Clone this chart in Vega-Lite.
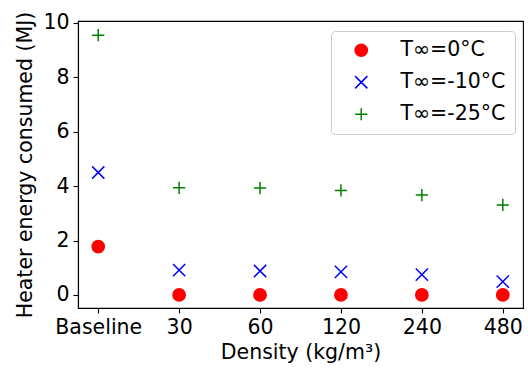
{
  "$schema": "https://vega.github.io/schema/vega-lite/v6.json",
  "width": 445,
  "height": 287,
  "autosize": {"type": "none"},
  "padding": {"left": 78, "top": 21, "right": 5, "bottom": 61},
  "background": "white",
  "config": {
    "font": "DejaVu Sans",
    "view": {"stroke": "black", "strokeWidth": 1.1},
    "axis": {
      "domainColor": "black", "domainWidth": 1.1,
      "tickColor": "black", "tickWidth": 1.1, "tickSize": 5,
      "labelFont": "DejaVu Sans", "labelFontSize": 20.5, "labelColor": "black", "labelPadding": 4,
      "titleFont": "DejaVu Sans", "titleFontSize": 20.5, "titleFontWeight": "normal", "titleColor": "black",
      "grid": false
    },
    "legend": {
      "orient": "none",
      "legendX": 253,
      "legendY": 10,
      "labelFont": "DejaVu Sans",
      "labelFontSize": 20.5,
      "labelColor": "black",
      "symbolSize": 150,
      "symbolStrokeWidth": 1.5,
      "fillColor": "rgba(255,255,255,0.8)",
      "strokeColor": "#cccccc",
      "cornerRadius": 4,
      "padding": 9,
      "rowPadding": 11,
      "labelOffset": 29,
      "symbolOffset": 11
    }
  },
  "data": {
    "values": [
      {"density": "Baseline", "series": "T∞=0°C", "energy": 1.78},
      {"density": "30", "series": "T∞=0°C", "energy": 0},
      {"density": "60", "series": "T∞=0°C", "energy": 0},
      {"density": "120", "series": "T∞=0°C", "energy": 0},
      {"density": "240", "series": "T∞=0°C", "energy": 0},
      {"density": "480", "series": "T∞=0°C", "energy": 0},
      {"density": "Baseline", "series": "T∞=-10°C", "energy": 4.5},
      {"density": "30", "series": "T∞=-10°C", "energy": 0.91},
      {"density": "60", "series": "T∞=-10°C", "energy": 0.88},
      {"density": "120", "series": "T∞=-10°C", "energy": 0.85},
      {"density": "240", "series": "T∞=-10°C", "energy": 0.75},
      {"density": "480", "series": "T∞=-10°C", "energy": 0.49},
      {"density": "Baseline", "series": "T∞=-25°C", "energy": 9.55},
      {"density": "30", "series": "T∞=-25°C", "energy": 3.94},
      {"density": "60", "series": "T∞=-25°C", "energy": 3.93},
      {"density": "120", "series": "T∞=-25°C", "energy": 3.84},
      {"density": "240", "series": "T∞=-25°C", "energy": 3.67},
      {"density": "480", "series": "T∞=-25°C", "energy": 3.31}
    ]
  },
  "mark": {"type": "point", "filled": true, "strokeWidth": 1.5, "size": 150, "opacity": 1},
  "encoding": {
    "x": {
      "field": "density", "type": "nominal",
      "scale": {"type": "point", "padding": 0.25, "domain": ["Baseline", "30", "60", "120", "240", "480"]},
      "axis": {"title": "Density (kg/m³)", "labelAngle": 0, "titlePadding": 5}
    },
    "y": {
      "field": "energy", "type": "quantitative",
      "scale": {"domain": [-0.48, 10.07], "nice": false, "zero": false},
      "axis": {"title": "Heater energy consumed (MJ)", "values": [0, 2, 4, 6, 8, 10], "titlePadding": 7}
    },
    "shape": {
      "field": "series", "type": "nominal",
      "scale": {"domain": ["T∞=0°C", "T∞=-10°C", "T∞=-25°C"], "range": ["circle", "M-1,-1L1,1M-1,1L1,-1", "M-1,0L1,0M0,-1L0,1"]},
      "legend": {"title": null}
    },
    "fill": {
      "field": "series", "type": "nominal",
      "scale": {"domain": ["T∞=0°C", "T∞=-10°C", "T∞=-25°C"], "range": ["#ff0000", "#0000ff", "#008000"]},
      "legend": {"title": null}
    },
    "stroke": {
      "field": "series", "type": "nominal",
      "scale": {"domain": ["T∞=0°C", "T∞=-10°C", "T∞=-25°C"], "range": ["#ff0000", "#0000ff", "#008000"]},
      "legend": {"title": null}
    }
  }
}
